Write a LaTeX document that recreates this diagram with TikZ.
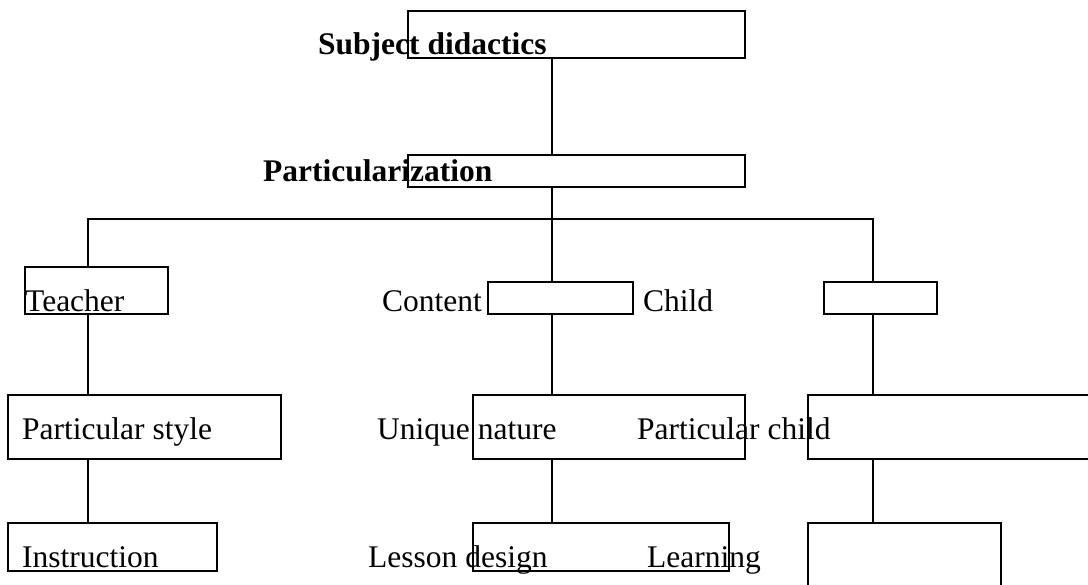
\documentclass[tikz,border=0pt]{standalone}
\usepackage{fontspec}
\setmainfont{Liberation Serif}
\begin{document}
\begin{tikzpicture}[x=1pt,y=-1pt,
  box/.style={draw,line width=1.8pt,rectangle,inner sep=0pt,outer sep=0pt,minimum width=#1},
  lbl/.style={anchor=base west,inner sep=0pt,font=\fontsize{31.5}{36}\selectfont},
  blbl/.style={lbl,font=\fontsize{31.5}{36}\selectfont\bfseries},
  conn/.style={line width=1.8pt}]
\clip (0,0) rectangle (1088,585);
\fill[white] (0,0) rectangle (1088,585);
% boxes
\node[box=337pt,minimum height=47pt] (top) at (576.5,34.5) {};
\node[box=337pt,minimum height=32pt] (part) at (576.5,171) {};
\node[box=143pt,minimum height=47pt] (teacher) at (96.5,290.5) {};
\node[box=145pt,minimum height=32pt] (content) at (560.5,298) {};
\node[box=113pt,minimum height=32pt] (child) at (880.5,298) {};
\node[box=273pt,minimum height=64pt] (style) at (144.5,427) {};
\node[box=272pt,minimum height=64pt] (nature) at (609,427) {};
\node[box=300pt,minimum height=64pt] (pchild) at (958,427) {};
\node[box=209pt,minimum height=48pt] (instr) at (112.5,547) {};
\node[box=256pt,minimum height=48pt] (lesson) at (601,547) {};
\node[box=193pt,minimum height=80pt] (learn) at (904.5,563) {};
% column coordinates
\coordinate (lx) at (88,0);
\coordinate (mx) at (552,0);
\coordinate (rx) at (873,0);
\coordinate (busl) at (88,219);
\coordinate (busm) at (552,219);
\coordinate (busr) at (873,219);
% connectors
\draw[conn] (top.south -| mx) -- (part.north -| mx);
\draw[conn] (part.south -| mx) -- (busm);
\draw[conn,line cap=rect] (busl) -- (busr);
\draw[conn] (busl) -- (teacher.north -| lx);
\draw[conn] (busm) -- (content.north -| mx);
\draw[conn] (busr) -- (child.north -| rx);
\draw[conn] (teacher.south -| lx) -- (style.north -| lx);
\draw[conn] (content.south -| mx) -- (nature.north -| mx);
\draw[conn] (child.south -| rx) -- (pchild.north -| rx);
\draw[conn] (style.south -| lx) -- (instr.north -| lx);
\draw[conn] (nature.south -| mx) -- (lesson.north -| mx);
\draw[conn] (pchild.south -| rx) -- (learn.north -| rx);
% labels
\node[blbl] (tsub) at (318,55) {Subject didactics};
\node[blbl] (tpart) at (263,182) {Particularization};
\node[lbl] (tteacher) at (25,312) {Teacher};
\node[lbl] (tcontent) at (382,312) {Content};
\node[lbl] (tchild) at (643,312) {Child};
\node[lbl] (tstyle) at (22,440) {Particular style};
\node[lbl] (tnature) at (377,440) {Unique nature};
\node[lbl] (tpchild) at (637,440) {Particular child};
\node[lbl] (tinstr) at (22,567) {Instruction};
\node[lbl] (tlesson) at (368,567) {Lesson design};
\node[lbl] (tlearn) at (647,567) {Learning};
\end{tikzpicture}
\end{document}
